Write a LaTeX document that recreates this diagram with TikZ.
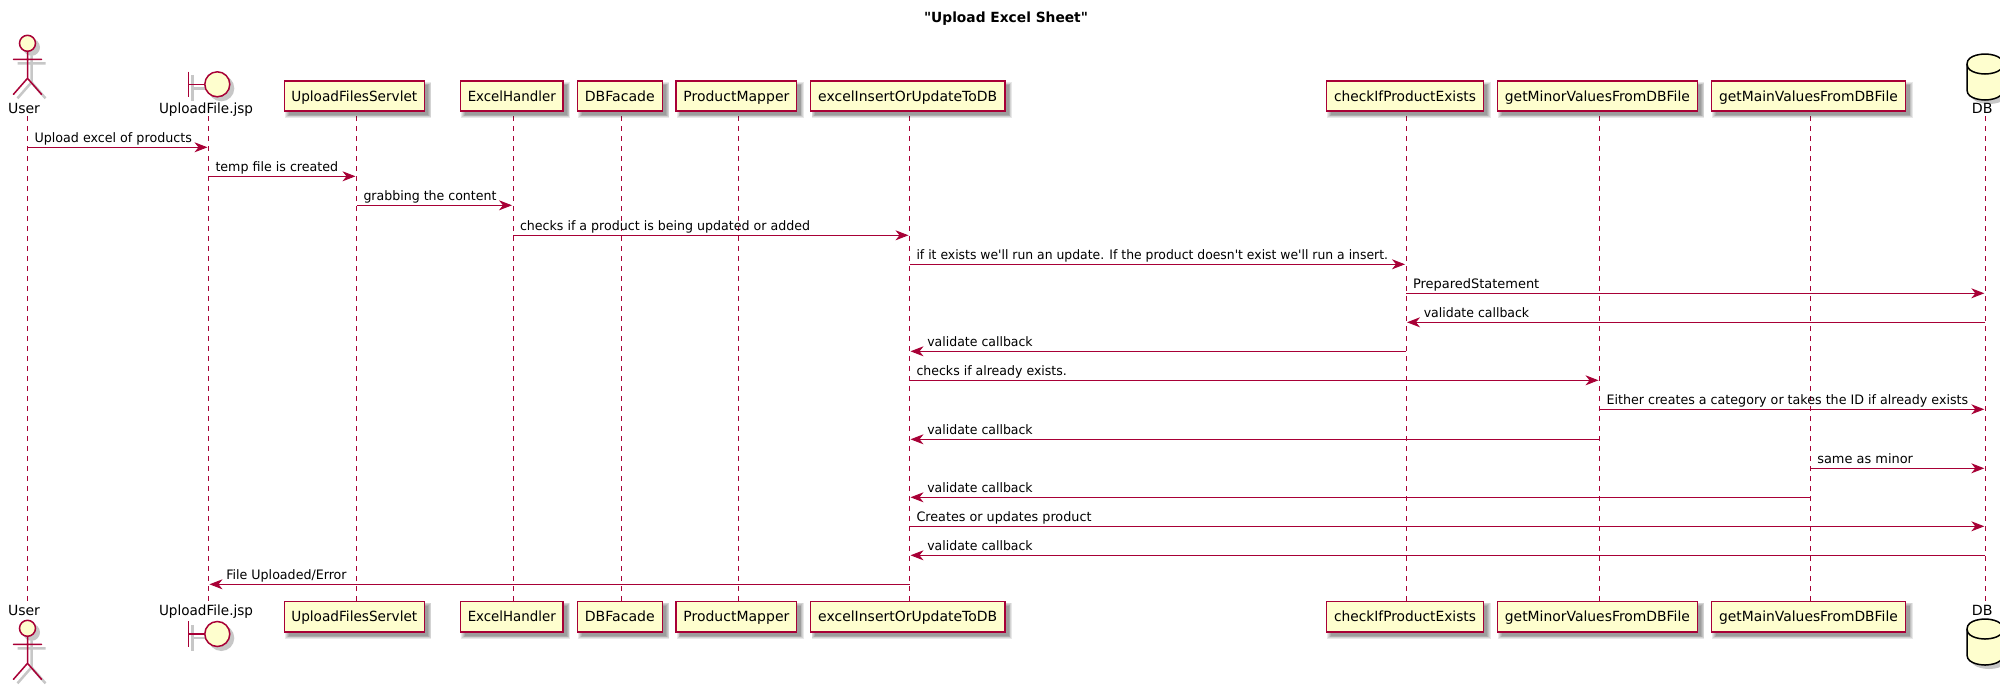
\documentclass[tikz,border=0pt]{standalone}
\usepackage{graphicx}
\usepackage{fontspec}
\newfontfamily\djv{DejaVu Sans}
\usetikzlibrary{arrows.meta,calc}
\definecolor{pRed}{HTML}{A80036}
\definecolor{pFill}{HTML}{FEFECE}
\newcommand\msgfont{\djv\fontsize{13}{15}\selectfont}
\newcommand\headfont{\djv\fontsize{14}{16}\selectfont}
\newcommand\fitw[2]{\resizebox{#1pt}{\height}{#2}}
\tikzset{
  lifeline/.style={draw=pRed,line width=1pt,dash pattern=on 5pt off 5pt},
  msgline/.style={draw=pRed,line width=1pt,-{Stealth[length=13pt,width=10pt,inset=4pt,fill=pRed]}},
  msgtext/.style={inner sep=0pt,anchor=base west,font=\msgfont,text=black},
  headbox/.style={draw=pRed,line width=1.5pt,fill=pFill,inner sep=0pt,font=\headfont,text=black},
  headlabel/.style={inner sep=0pt,anchor=base,font=\headfont,text=black},
  softshadow/.style={fill=black,draw=none,opacity=0.09},
  stick/.style={draw=pRed,line width=1.5pt,line cap=round,fill=none},
  stickshadow/.style={draw=black!22,line width=2.5pt,fill=none},
  ball/.style={draw=pRed,line width=1.5pt,fill=pFill},
  dbshape/.style={draw=black,line width=1.5pt,fill=pFill},
}
% name, x1, x2, y1, y2, text width, text
\newcommand\headrect[7]{%
  \foreach \e in {3,2.2,1.4,0.6,-0.2}{
    \fill[softshadow] (#2+4-\e,#4+4-\e) rectangle (#3+4+\e,#5+4+\e);
  }
  \node[headbox,minimum width=#3pt-#2pt,minimum height=#5pt-#4pt] (#1) at ({(#2+#3)/2},{(#4+#5)/2}) {\rule[-3pt]{0pt}{16pt}\fitw{#6}{#7}};
}
\newcommand\actor[3]{%
  \begin{scope}[shift={(#2,#3)}]
    \fill[black!22] (4,4) circle (8.5);
    \draw[stickshadow] (4,12) -- (4,39) (-10,20) -- (18,20) (-10,55) -- (4,39) -- (18,55);
    \draw[stick] (0,8) -- (0,35) (-14,16) -- (14,16) (-14,51) -- (0,35) -- (14,51);
    \node[ball,circle,minimum size=16pt,inner sep=0pt] (#1) at (0,0) {};
  \end{scope}
}
\newcommand\boundary[3]{%
  \begin{scope}[shift={(#2,#3)}]
    \fill[black!22] (4,4) circle (13);
    \draw[stickshadow] (-25,-9) -- (-25,17) (-25,4) -- (-8,4);
    \draw[stick,line cap=butt] (-29,-12.7) -- (-29,12.7) (-29,0) -- (-12.5,0);
    \node[ball,circle,minimum size=25pt,inner sep=0pt] (#1) at (0,0) {};
  \end{scope}
}
\newcommand\database[2]{%
  \begin{scope}[shift={(#1,#2)}]
    \fill[black!22] (4,14) .. controls (4,4) and (22,4) .. (22,4) .. controls (22,4) and (40,4) .. (40,14) -- (40,40) .. controls (40,50) and (22,50) .. (22,50) .. controls (22,50) and (4,50) .. (4,40) -- cycle;
    \path[dbshape] (0,10) .. controls (0,0) and (18,0) .. (18,0) .. controls (18,0) and (36,0) .. (36,10) -- (36,36) .. controls (36,46) and (18,46) .. (18,46) .. controls (18,46) and (0,46) .. (0,36) -- cycle;
    \draw[draw=black,line width=1.5pt] (0,10) .. controls (0,20) and (18,20) .. (18,20) .. controls (18,20) and (36,20) .. (36,10);
  \end{scope}
}
% id, from, to, y, text width, text
\newcommand\msgR[6]{%
  \draw[msgline,shorten >=1pt] (#2-t |- 0,#4) -- (#3-t |- 0,#4);
  \node[msgtext] (m#1) at ($(#2-t |- 0,#4)+(6.8,-4.6)$) {\fitw{#5}{#6}};
}
\newcommand\msgL[6]{%
  \draw[msgline,shorten >=1pt] (#2-t |- 0,#4) -- (#3-t |- 0,#4);
  \node[msgtext] (m#1) at ($(#3-t |- 0,#4)+(17.6,-4.6)$) {\fitw{#5}{#6}};
}
\begin{document}
\begin{tikzpicture}[x=1pt,y=-1pt]
\clip (0,0) rectangle (2000,689);
\fill[white] (0,0) rectangle (2000,689);
\node[inner sep=0pt,anchor=base,font=\djv\fontsize{14}{16}\selectfont\bfseries] (title) at (1006,22.7) {\fitw{164}{"Upload Excel Sheet"}};

\foreach \n/\x in {user/27.5,upload/208.5,servlet/356.5,excelh/513,facade/621.4,mapper/738.5,insert/909.5,check/1406,minor/1599.5,main/1810.3,db/1985.3}{
  \coordinate (\n-t) at (\x,116);
  \coordinate (\n-b) at (\x,601.5);
}
\foreach \n in {user,upload,servlet,excelh,facade,mapper,insert,check,minor,main,db}{
  \draw[lifeline] (\n-t) -- (\n-b);
}

% top heads
\actor{userT}{27.5}{43.3}
\node[headlabel] (userTL) at (24,113.3) {\fitw{32}{User}};
\boundary{uploadT}{217.3}{84.3}
\node[headlabel] (uploadTL) at (206,113.3) {\fitw{94}{UploadFile.jsp}};
\database{1967}{54}
\node[headlabel] (dbTL) at (1982.3,113.3) {\fitw{20.7}{DB}};
\headrect{servletT}{284.3}{424.3}{81}{111}{126}{UploadFilesServlet}
\headrect{excelhT}{460.3}{563.2}{81}{111}{88}{ExcelHandler}
\headrect{facadeT}{577.4}{662.3}{81}{111}{70}{DBFacade}
\headrect{mapperT}{676}{796.7}{81}{111}{106}{ProductMapper}
\headrect{insertT}{810.5}{1004.9}{81}{111}{179}{excelInsertOrUpdateToDB}
\headrect{checkT}{1326.4}{1483.6}{81}{111}{142}{checkIfProductExists}
\headrect{minorT}{1497.4}{1697.4}{81}{111}{185}{getMinorValuesFromDBFile}
\headrect{mainT}{1711.3}{1905.7}{81}{111}{178.7}{getMainValuesFromDBFile}

% bottom heads
\actor{userB}{27.5}{628.3}
\node[headlabel] (userBL) at (24,615) {\fitw{32}{User}};
\boundary{uploadB}{217.3}{634}
\node[headlabel] (uploadBL) at (206,615) {\fitw{94}{UploadFile.jsp}};
\database{1967}{619}
\node[headlabel] (dbBL) at (1982.3,615) {\fitw{20.7}{DB}};
\headrect{servletB}{284.3}{424.3}{601.5}{632}{126}{UploadFilesServlet}
\headrect{excelhB}{460.3}{563.2}{601.5}{632}{88}{ExcelHandler}
\headrect{facadeB}{577.4}{662.3}{601.5}{632}{70}{DBFacade}
\headrect{mapperB}{676}{796.7}{601.5}{632}{106}{ProductMapper}
\headrect{insertB}{810.5}{1004.9}{601.5}{632}{179}{excelInsertOrUpdateToDB}
\headrect{checkB}{1326.4}{1483.6}{601.5}{632}{142}{checkIfProductExists}
\headrect{minorB}{1497.4}{1697.4}{601.5}{632}{185}{getMinorValuesFromDBFile}
\headrect{mainB}{1711.3}{1905.7}{601.5}{632}{178.7}{getMainValuesFromDBFile}

% messages
\msgR{1}{user}{upload}{147.3}{157.4}{Upload excel of products}
\msgR{2}{upload}{servlet}{176.3}{122.7}{temp file is created}
\msgR{3}{servlet}{excelh}{205.3}{133}{grabbing the content}
\msgR{4}{excelh}{insert}{235.3}{290}{checks if a product is being updated or added}
\msgR{5}{insert}{check}{264.3}{471.5}{if it exists we'll run an update. If the product doesn't exist we'll run a insert.}
\msgR{6}{check}{db}{293.3}{126.3}{PreparedStatement}
\msgL{7}{db}{check}{322.3}{105.4}{validate callback}
\msgL{8}{check}{insert}{351.3}{105.4}{validate callback}
\msgR{9}{insert}{minor}{380.3}{150.4}{checks if already exists.}
\msgR{10}{minor}{db}{409.3}{361.7}{Either creates a category or takes the ID if already exists}
\msgL{11}{minor}{insert}{439.3}{105.4}{validate callback}
\msgR{12}{main}{db}{468.3}{95.7}{same as minor}
\msgL{13}{main}{insert}{497.3}{105.4}{validate callback}
\msgR{14}{insert}{db}{526.3}{175}{Creates or updates product}
\msgL{15}{db}{insert}{555.3}{105.4}{validate callback}
\msgL{16}{insert}{upload}{584.3}{120.3}{File Uploaded/Error}
\end{tikzpicture}
\end{document}
